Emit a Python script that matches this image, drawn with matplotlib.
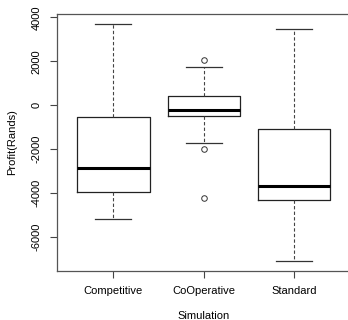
import matplotlib
matplotlib.use("Agg")
import matplotlib.pyplot as plt

# ── Data ──────────────────────────────────────────────────────────────────────
groups   = ["Competitive", "CoOperative", "Standard"]
whislo   = [-5180, -1700, -7090]
q1       = [-3955, -500, -4320]
medians  = [-2836, -227, -3655]
q3       = [-545, 409, -1077]
whishi   = [3695, 1727, 3455]
outliers = [[], [2045, -1986, -4200], []]
yticks   = [-6000, -4000, -2000, 0, 2000, 4000]

plt.rcParams["font.family"] = ["Liberation Sans", "DejaVu Sans"]
plt.rcParams["font.size"] = 8

W, H = 348, 320
fig = plt.figure(figsize=(W / 100, H / 100), dpi=100)
ax = fig.add_axes([57.2 / W, (H - 270.7) / H, 293.2 / W, 256.4 / H])

stats = []
for i, g in enumerate(groups):
    stats.append(dict(label=g, whislo=whislo[i], q1=q1[i], med=medians[i],
                      q3=q3[i], whishi=whishi[i], fliers=outliers[i]))

ax.bxp(stats, positions=[1, 2, 3], widths=0.8, showfliers=True,
       boxprops=dict(color="#222222", linewidth=0.9),
       medianprops=dict(color="black", linewidth=2.2, solid_capstyle="butt"),
       whiskerprops=dict(color="#444444", linewidth=0.8, linestyle=(0, (3, 2))),
       capprops=dict(color="#333333", linewidth=0.9),
       capwidths=0.4,
       flierprops=dict(marker="o", markersize=4, markerfacecolor="none",
                       markeredgecolor="#333333", markeredgewidth=0.7))

ax.set_xlim(0.38, 3.62)
ax.set_ylim(-7518, 4136)
ax.set_yticks(yticks)
ax.set_yticklabels([str(t) for t in yticks], rotation=90, va="center")
ax.set_xticks([1, 2, 3])
ax.set_xticklabels(groups)
ax.tick_params(axis="both", length=5, width=0.8, color="#444444")
ax.tick_params(axis="x", pad=6)
ax.tick_params(axis="y", pad=6)

for s in ax.spines.values():
    s.set_color("#555555")
    s.set_linewidth(0.9)

ax.set_xlabel("Simulation", labelpad=11)
ax.set_ylabel("Profit(Rands)", labelpad=11)

fig.savefig("out.png", dpi=100, facecolor="white")
